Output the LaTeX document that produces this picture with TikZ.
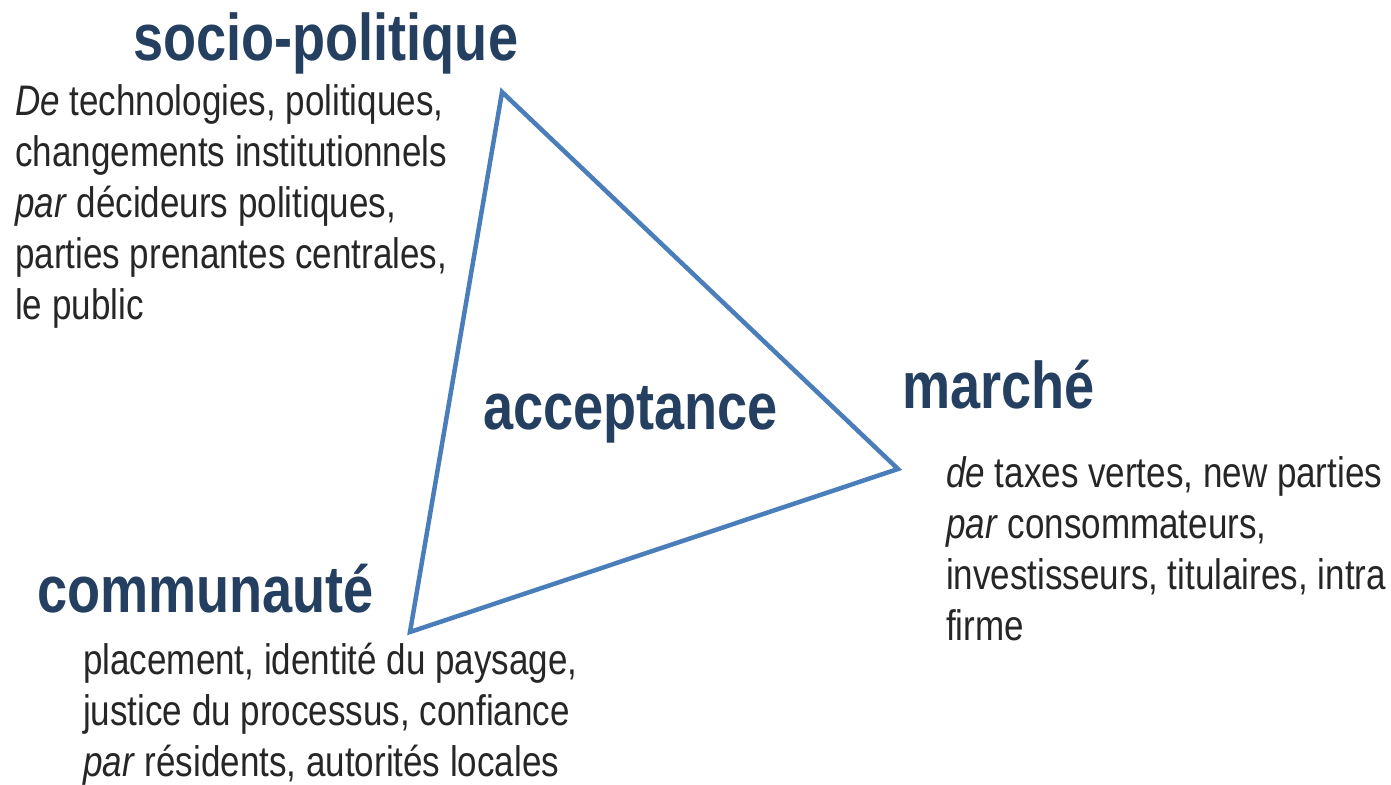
\documentclass[tikz,border=0pt]{standalone}
\usepackage{fontspec}
\setmainfont{Liberation Sans}[FakeStretch=0.82]
\definecolor{headnavy}{RGB}{36,63,96}
\definecolor{bodygray}{RGB}{38,38,38}
\definecolor{triblue}{RGB}{74,126,187}
\begin{document}
\begin{tikzpicture}[x=1pt,y=-1pt,
  heading/.style={anchor=base west,inner sep=0pt,text=headnavy,font=\fontsize{66}{72}\selectfont\bfseries},
  bodytext/.style={anchor=base west,inner sep=0pt,text=bodygray,align=left,font=\fontsize{42.7}{51}\selectfont},
  tri/.style={draw=triblue,line width=4.5pt,line join=miter}]
\useasboundingbox (0,0) rectangle (1391,784);
% triangle vertices
\coordinate (top) at (502,92);
\coordinate (right) at (898,469);
\coordinate (bottom) at (410,632);
\draw[tri] (top) -- (right) -- (bottom) -- cycle;
% headings
\node[heading] (hsocio) at (133,60) {socio-politique};
\node[heading] (hmarche) at (902,408) {marché};
\node[heading] (hcomm) at (37,612) {communauté};
\node[heading] (haccept) at (483,429) {acceptance};
% body texts (anchor = baseline of last line)
\node[bodytext] (tsocio) at (15,319) {\textit{De} technologies, politiques,\\changements institutionnels\\\textit{par} décideurs politiques,\\parties prenantes centrales,\\le public};
\node[bodytext] (tmarche) at (946,640) {\textit{de} taxes vertes, new parties\\\textit{par} consommateurs,\\investisseurs, titulaires, intra\\firme};
\node[bodytext] (tcomm) at (83,776) {placement, identité du paysage,\\justice du processus, confiance\\\textit{par} résidents, autorités locales};
\end{tikzpicture}
\end{document}
